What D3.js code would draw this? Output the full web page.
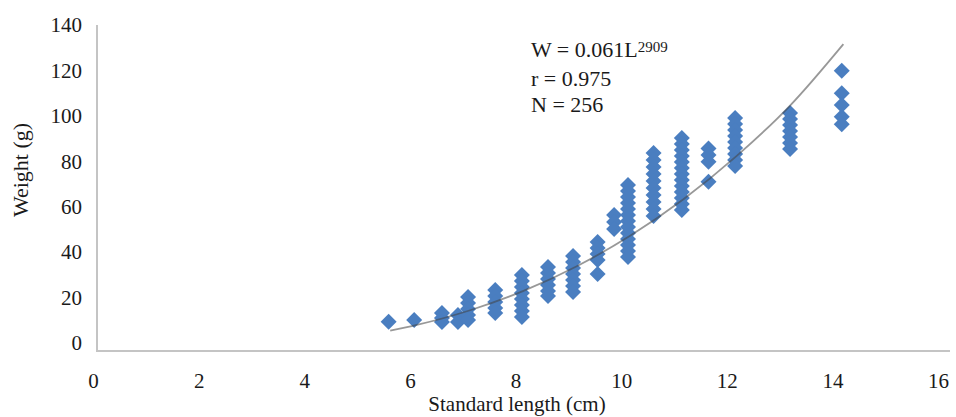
<!DOCTYPE html>
<html>
<head>
<meta charset="utf-8">
<script src="https://cdn.jsdelivr.net/npm/d3@7"></script>
<style>
  body { margin: 0; background: #fff; }
  text { font-family: "Liberation Serif", "Times New Roman", Tinos, "DejaVu Serif", serif; fill: #1a1a1a; }
</style>
</head>
<body>
<div id="chart"></div>
<script>
/* DATA */
// standard length (cm) of each column of diamonds
const lengths = [5.47, 5.95, 6.47, 6.77, 6.96, 7.47, 7.97, 8.46, 8.93, 9.39, 9.70, 9.96,
  10.44, 10.97, 11.47, 11.97, 13.0, 13.97];
// weights (g)
const weights = [
  [12.6],
  [13.3],
  [16.3, 14.2, 12.5],
  [15.5, 12.5],
  [23.2, 20.6, 18.0, 15.5, 13.3],
  [26.2, 23.6, 21.0, 18.5, 16.3],
  [32.6, 30.1, 27.5, 24.9, 22.3, 19.8, 17.2, 14.6],
  [36.1, 33.5, 30.9, 28.3, 25.8, 23.6],
  [40.8, 38.2, 35.6, 33.1, 30.5, 27.9, 25.3],
  [46.8, 44.2, 41.7, 39.1, 33.1],
  [58.4, 55.4, 52.4],
  [71.3, 68.7, 66.1, 63.6, 61.0, 58.4, 55.8, 53.3, 50.7, 48.1, 45.5, 42.9, 40.4],
  [85.0, 82.0, 79.0, 76.0, 73.0, 70.0, 67.0, 64.0, 61.0, 58.0],
  [91.5, 88.9, 86.3, 83.7, 81.2, 78.6, 76.0, 73.4, 70.9, 68.3, 65.7, 63.1, 60.6],
  [87.0, 84.2, 81.3, 72.7],
  [100.1, 97.5, 94.9, 92.3, 89.8, 87.2, 84.6, 82.0, 79.5],
  [102.2, 99.6, 97.1, 94.5, 91.9, 89.3, 86.7],
  [120.4, 110.7, 105.6, 100.6, 97.4]
];
// power trend line
const trendL = [5.5, 6, 7, 8, 9, 10, 11, 12, 13, 14];
const trendW = [8.7, 11.2, 17.5, 25.8, 36.4, 49.5, 65.2, 83.8, 105.4, 131.8];

const xTicks = [0, 2, 4, 6, 8, 10, 12, 14, 16];
const yTicks = [0, 20, 40, 60, 80, 100, 120, 140];
const equation = ["W = 0.061L", "2909"];
const stats = ["r = 0.975", "N = 256"];

/* CONSTANTS */
const width = 956, height = 417;
const serif = '"Liberation Serif", "Times New Roman", Tinos, "DejaVu Serif", serif';

let points = [];
lengths.forEach((l, i) => weights[i].forEach(w => points.push({L: l, W: w})));

const svg = d3.select("#chart").append("svg")
  .attr("width", width)
  .attr("height", height);

// plot scales
const x = d3.scaleLinear().domain([0, 16]).range([97, 950]);
const y = d3.scaleLinear().domain([0, 140]).range([351, 25]);
// tick labels sit a little off the plot area in the original figure
const xLab = d3.scaleLinear().domain([0, 16]).range([93, 938]);
const yLab = d3.scaleLinear().domain([0, 140]).range([343, 25]);

// axis lines
svg.append("line")
  .attr("x1", x(0)).attr("x2", x(16))
  .attr("y1", y(0)).attr("y2", y(0))
  .attr("stroke", "#c4c4c4").attr("stroke-width", 2);
svg.append("line")
  .attr("x1", x(0)).attr("x2", x(0))
  .attr("y1", y(0) + 1).attr("y2", y(140))
  .attr("stroke", "#c4c4c4").attr("stroke-width", 2);

const xAxis = d3.axisBottom(xLab).tickValues(xTicks).tickSize(0).tickPadding(0);
const yAxis = d3.axisLeft(yLab).tickValues(yTicks).tickSize(0).tickPadding(0);

svg.append("g")
  .attr("transform", "translate(0,373)")
  .attr("font-family", serif)
  .call(xAxis)
  .call(g => g.select(".domain").remove())
  .selectAll("text")
  .style("font-size", "21px")
  .style("font-family", serif)
  .attr("fill", "#1a1a1a");

svg.append("g")
  .attr("transform", "translate(82,0)")
  .attr("font-family", serif)
  .call(yAxis)
  .call(g => g.select(".domain").remove())
  .selectAll("text")
  .style("font-size", "21px")
  .style("font-family", serif)
  .attr("fill", "#1a1a1a");

// axis titles
svg.append("text")
  .text("Standard length (cm)")
  .attr("x", 517)
  .attr("y", 411)
  .attr("text-anchor", "middle")
  .style("font-family", serif)
  .style("font-size", "21px");

svg.append("text")
  .text("Weight (g)")
  .attr("transform", "translate(28,170) rotate(-90)")
  .attr("text-anchor", "middle")
  .style("font-family", serif)
  .style("font-size", "22px");

// diamonds
const diamond = d3.symbol().type(d3.symbolSquare).size(128);
svg.append("g")
  .selectAll("path.pt")
  .data(points)
  .join("path")
  .attr("class", "pt")
  .attr("d", diamond)
  .attr("transform", d => `translate(${x(d.L)},${y(d.W)}) rotate(45)`)
  .attr("fill", "#4a7ec0");

// trend line
const line = d3.line()
  .x(d => x(d[0]))
  .y(d => y(d[1]))
  .curve(d3.curveMonotoneX);
svg.append("path")
  .datum(trendL.map((l, i) => [l, trendW[i]]))
  .attr("d", line)
  .attr("fill", "none")
  .attr("stroke", "#444")
  .attr("stroke-opacity", 0.55)
  .attr("stroke-width", 1.8);

// equation box
const eq = svg.append("text")
  .attr("x", 531)
  .attr("y", 57)
  .style("font-family", serif)
  .style("font-size", "22px");
eq.append("tspan").text(equation[0]);
eq.append("tspan").text(equation[1])
  .attr("dy", -5)
  .style("font-size", "15px");

svg.selectAll("text.stat")
  .data(stats)
  .join("text")
  .attr("class", "stat")
  .attr("x", 531)
  .attr("y", (d, i) => 86 + i * 26)
  .style("font-family", serif)
  .style("font-size", "22px")
  .text(d => d);
</script>
</body>
</html>
